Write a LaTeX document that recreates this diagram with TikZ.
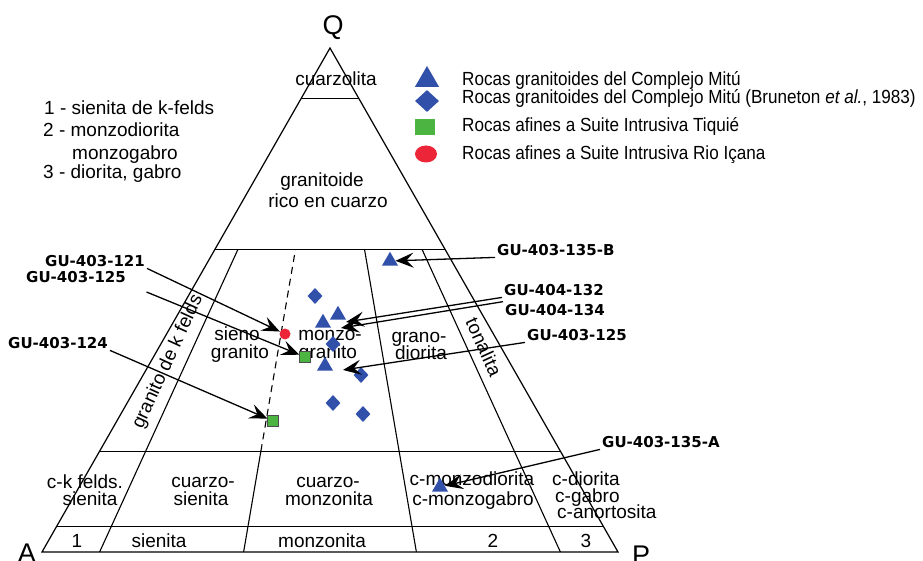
\documentclass[tikz,border=0pt]{standalone}
\usepackage{fontspec}
\usepackage{tikz}
\usepackage{xcolor}
\usetikzlibrary{shapes.geometric, arrows.meta}
\setmainfont{Liberation Sans}
\newfontfamily\legendfont{Liberation Sans}[FakeStretch=0.9]
\newfontfamily\samplefont{DejaVu Sans}
\definecolor{mitublue}{RGB}{48,80,170}
\definecolor{tiquie}{RGB}{76,180,64}
\definecolor{icana}{RGB}{236,38,56}

\begin{document}
\begin{tikzpicture}[x=1pt, y=-1pt,
    field/.style={font=\fontsize{19}{19}\selectfont, inner sep=0pt, anchor=base},
    corner/.style={font=\fontsize{27}{27}\selectfont, inner sep=0pt, anchor=base},
    sample/.style={font=\samplefont\bfseries\fontsize{15}{15}\selectfont, inner sep=2pt},
    tri/.style={regular polygon, regular polygon sides=3, fill=mitublue, inner sep=0pt, minimum size=18.5pt},
    dia/.style={diamond, fill=mitublue, inner sep=0pt, minimum width=15pt, minimum height=16pt},
    sq/.style={rectangle, fill=tiquie, draw=black!70, line width=0.6pt, inner sep=0pt, minimum size=10.5pt},
    dot/.style={circle, fill=icana, inner sep=0pt, minimum size=11pt},
    pointer/.style={-{Stealth[length=18pt, width=15pt, inset=7pt]}, line width=1.3pt}]
    \useasboundingbox (0,0) rectangle (923,561);

    % frame of the QAP triangle
    \coordinate (A) at (42,552);
    \coordinate (P) at (618,552);
    \coordinate (Q) at (330,48);
    \draw[line width=1.2pt] (A) -- (P) -- (Q) -- cycle;
    \draw[line width=1.1pt] (301.2,98.4) -- (358.8,98.4);
    \draw[line width=1.1pt] (214.8,249.6) -- (445.2,249.6);
    \draw[line width=1.1pt] (99.6,451.2) -- (560.4,451.2);
    \draw[line width=1.1pt] (56.4,526.8) -- (603.6,526.8);
    \draw[line width=1.1pt] (99.6,552) -- (237.84,249.6);
    \draw[line width=1.1pt] (243.6,552) -- (260.88,451.2);
    \draw[line width=1.1pt, dash pattern=on 7pt off 5pt] (260.88,451.2) -- (295.44,249.6);
    \draw[line width=1.1pt] (416.4,552) -- (364.56,249.6);
    \draw[line width=1.1pt] (560.4,552) -- (422.16,249.6);

    \node[corner] (lQ) at (333,35) {Q};
    \node[corner] (lA) at (27,562) {A};
    \node[corner] (lP) at (641,564) {P};

    % fields
    \node[field] (cuarzolita) at (336,86) {cuarzolita};
    \node[field] (gri1) at (322,187) {granitoide};
    \node[field] (gri2) at (328,208) {rico en cuarzo};
    \node[field] (sg1) at (237,340) {sieno};
    \node[field] (sg2) at (240,358) {granito};
    \node[field] (mg1) at (330,340) {monzo-};
    \node[field] (mg2) at (328,358) {granito};
    \node[field] (gd1) at (419,342) {grano-};
    \node[field] (gd2) at (421,359) {diorita};
    \node[field, anchor=center, rotate=65.4] (gkf) at (168,362) {granito de k felds};
    \node[field, anchor=center, rotate=-65.4] (ton) at (484,347) {tonalita};
    \node[field] (ckf1) at (85,488) {c-k felds.};
    \node[field] (ckf2) at (90,505) {sienita};
    \node[field] (cs1) at (203,487) {cuarzo-};
    \node[field] (cs2) at (201,505) {sienita};
    \node[field] (cm1) at (328,487) {cuarzo-};
    \node[field] (cm2) at (329,505) {monzonita};
    \node[field] (cmd1) at (472,485) {c-monzodiorita};
    \node[field] (cmd2) at (473,505) {c-monzogabro};
    \node[field, anchor=base west] (cd1) at (552,485) {c-diorita};
    \node[field, anchor=base west] (cd2) at (555,502) {c-gabro};
    \node[field, anchor=base west] (cd3) at (557,518) {c-anortosita};
    \node[field] (f1) at (77,547) {1};
    \node[field] (f4) at (159,547) {sienita};
    \node[field] (f5) at (322,547) {monzonita};
    \node[field] (f2) at (493,547) {2};
    \node[field] (f3) at (586,547) {3};

    % key of the numbered fields
    \node[field, anchor=base west] (key1) at (44,115) {1 - sienita de k-felds};
    \node[field, anchor=base west] (key2) at (43,137) {2 - monzodiorita};
    \node[field, anchor=base west] (key2b) at (72,160) {monzogabro};
    \node[field, anchor=base west] (key3) at (43,179) {3 - diorita, gabro};

    % legend
    \node[tri, minimum size=28pt] (ltri) at (427,80) {};
    \node[dia, minimum width=24pt, minimum height=22pt] (ldia) at (427,101) {};
    \node[rectangle, fill=tiquie, minimum width=20pt, minimum height=16pt] (lsq) at (425,127) {};
    \node[ellipse, fill=icana, minimum width=22pt, minimum height=17pt] (ldot) at (426,154) {};
    \node[field, font=\legendfont\fontsize{19}{19}\selectfont, anchor=base west] (leg1) at (462,86) {Rocas granitoides del Complejo Mitú};
    \node[field, font=\legendfont\fontsize{19}{19}\selectfont, anchor=base west] (leg2) at (462,104) {Rocas granitoides del Complejo Mitú (Bruneton \textit{et al.}, 1983)};
    \node[field, font=\legendfont\fontsize{19}{19}\selectfont, anchor=base west] (leg3) at (462,132) {Rocas afines a Suite Intrusiva Tiquié};
    \node[field, font=\legendfont\fontsize{19}{19}\selectfont, anchor=base west] (leg4) at (462,160) {Rocas afines a Suite Intrusiva Rio Içana};

    % samples
    \node[dia] (d1) at (315,296) {};
    \node[dia] (d2) at (333,344) {};
    \node[dia] (d3) at (361,375) {};
    \node[dia] (d4) at (333,403) {};
    \node[dia] (d5) at (363,414) {};
    \node[tri] (t135b) at (390,261) {};
    \node[tri] (t132) at (338,315) {};
    \node[tri] (t134) at (323,323) {};
    \node[tri] (t125) at (325,366) {};
    \node[tri] (t135a) at (440,487) {};
    \node[dot] (r121) at (285,334) {};
    \node[sq] (s125) at (305,357) {};
    \node[sq] (s124) at (273,421) {};
    \coordinate (tip132) at (346,322);
    \coordinate (tip134) at (341,328);
    \coordinate (tip125) at (343,370);

    % sample labels
    \node[sample, anchor=base east] (g121) at (147,266) {GU-403-121};
    \node[sample, anchor=base east] (g125a) at (128,282) {GU-403-125};
    \node[sample, anchor=base east] (g124) at (110,348) {GU-403-124};
    \node[sample, anchor=base west] (g135b) at (495,255) {GU-403-135-B};
    \node[sample, anchor=base west] (g132) at (502,295) {GU-404-132};
    \node[sample, anchor=base west] (g134) at (503,315) {GU-404-134};
    \node[sample, anchor=base west] (g125b) at (525,340) {GU-403-125};
    \node[sample, anchor=base west] (g135a) at (600,447) {GU-403-135-A};

    \draw[pointer] (g121.south east) -- (r121);
    \draw[pointer, shorten <=20pt] (g125a.south east) -- (s125);
    \draw[pointer] (g124.south east) -- (s124);
    \draw[pointer] (g135b.south west) -- (t135b);
    \draw[pointer] (g132.south west) -- (tip132);
    \draw[pointer] (g134.north west) -- (tip134);
    \draw[pointer] (g125b.south west) -- (tip125);
    \draw[pointer] (g135a.south west) -- (t135a);
\end{tikzpicture}
\end{document}
